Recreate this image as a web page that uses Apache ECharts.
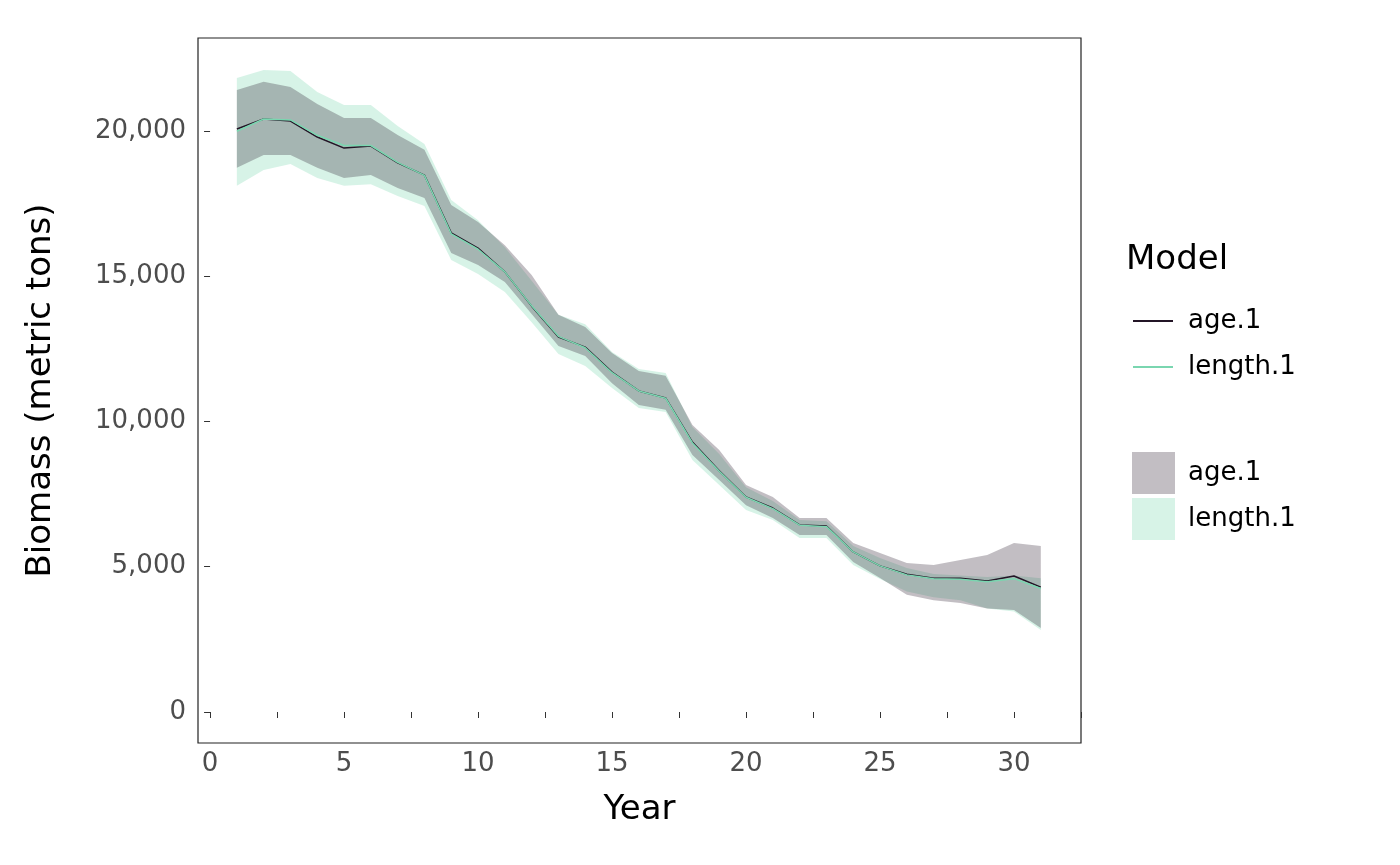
<!DOCTYPE html>
<html>
<head>
<meta charset="utf-8">
<script src="https://cdn.jsdelivr.net/npm/echarts@6/dist/echarts.min.js"></script>
<style>html,body{margin:0;padding:0;background:#fff}#main{width:1400px;height:865px}</style>
</head>
<body>
<div id="main"></div>
<script>
// 年份
var years = [1,2,3,4,5,6,7,8,9,10,11,12,13,14,15,16,17,18,19,20,21,22,23,24,25,26,27,28,29,30,31];
// age.1 模型
var ageEst = [20070,20410,20340,19790,19410,19480,18900,18480,16490,15970,15150,13970,12910,12560,11700,11050,10810,9290,8300,7400,7020,6440,6400,5510,5030,4740,4600,4600,4510,4680,4300];
var ageHi  = [21410,21690,21510,20930,20450,20450,19860,19350,17450,16870,16070,15040,13670,13250,12360,11740,11570,9880,9020,7810,7400,6680,6680,5820,5470,5130,5060,5230,5400,5820,5710];
var ageLo  = [18730,19170,19170,18730,18380,18480,18040,17690,15800,15390,14800,13700,12600,12250,11320,10570,10400,8850,7990,7120,6680,6090,6090,5160,4610,4040,3850,3750,3560,3510,2890];
// length.1 模型
var lenEst = [19990,20410,20380,19850,19500,19500,18920,18470,16460,15930,15150,13980,12930,12540,11680,11050,10800,9260,8290,7390,7000,6430,6380,5510,5030,4720,4590,4570,4480,4590,4250];
var lenHi  = [21820,22100,22060,21340,20890,20890,20170,19550,17620,16930,16000,14840,13670,13350,12390,11810,11670,9810,8880,7740,7260,6610,6570,5710,5300,4960,4750,4700,4650,4700,4600];
var lenLo  = [18110,18660,18860,18380,18110,18170,17760,17420,15560,15080,14460,13420,12320,11910,11150,10460,10330,8670,7810,6950,6610,5990,5990,5060,4580,4150,3950,3850,3560,3460,2820];

var ageColor = '#231526', lenColor = '#7ad6b0';

function pairs(arr){ return years.map(function(y, i){ return [y, arr[i]]; }); }

// 置信带: 用custom系列画多边形, 坐标由坐标轴换算
function band(name, lo, hi, color, op){
    return {
        name: name, type: 'custom', silent: true, z: 1,
        itemStyle: {color: color, opacity: op},
        data: years.map(function(y, i){ return [y, lo[i], hi[i]]; }),
        renderItem: function(params, api){
            if (params.dataIndex !== 0) return null;
            var pts = [];
            years.forEach(function(y, i){ pts.push(api.coord([y, hi[i]])); });
            for (var i = years.length - 1; i >= 0; i--) pts.push(api.coord([years[i], lo[i]]));
            return {type: 'polygon', shape: {points: pts}, style: {fill: color, opacity: op}};
        },
        encode: {x: 0, y: [1, 2]}
    };
}

var series = [
    band('length.1 ', lenLo, lenHi, lenColor, 0.3),
    band('age.1 ', ageLo, ageHi, ageColor, 0.28),
    {name: 'age.1', type: 'line', data: pairs(ageEst), symbol: 'none', showSymbol: false,
     lineStyle: {color: ageColor, width: 1.5}, itemStyle: {color: ageColor}, z: 3},
    {name: 'length.1', type: 'line', data: pairs(lenEst), symbol: 'none', showSymbol: false,
     lineStyle: {color: lenColor, width: 1.5}, itemStyle: {color: lenColor}, z: 4}
];

var xTicks = [], xLabels = [0,5,10,15,20,25,30];
for (var t = 0; t <= 32.5; t += 2.5) xTicks.push(t);
var yTicks = [0,5000,10000,15000,20000];

var chart = echarts.init(document.getElementById('main'));
chart.setOption({
    animation: false,
    textStyle: {fontFamily: 'DejaVu Sans'},
    grid: {left: 198, right: 319, top: 38, bottom: 122, show: true, borderColor: '#222', borderWidth: 1.2},
    xAxis: {
        type: 'value', min: -0.45, max: 32.5,
        name: 'Year', nameLocation: 'middle', nameGap: 50,
        nameTextStyle: {fontSize: 34, color: '#000'},
        axisLine: {show: false},
        splitLine: {show: false},
        axisTick: {show: true, length: 6, lineStyle: {color: '#333'}, customValues: xTicks},
        axisLabel: {fontSize: 26, color: '#4d4d4d', margin: 8, customValues: xLabels}
    },
    yAxis: {
        type: 'value', min: -1067, max: 23200,
        name: 'Biomass (metric tons)', nameLocation: 'middle', nameGap: 140,
        nameTextStyle: {fontSize: 34, color: '#000'},
        axisLine: {show: false},
        splitLine: {show: false},
        axisTick: {show: true, length: 6, lineStyle: {color: '#333'}, customValues: yTicks},
        axisLabel: {fontSize: 26, color: '#4d4d4d', margin: 12, customValues: yTicks,
            formatter: function(v){ return v.toLocaleString('en-US'); }}
    },
    legend: [
        {data: ['age.1', 'length.1'], orient: 'vertical', left: 1128, top: 303,
         itemWidth: 40, itemHeight: 26, itemGap: 20, icon: 'path://M0,12 L40,12 L40,14 L0,14 Z',
         textStyle: {fontSize: 26, color: '#000', padding: [0,0,0,10]}, selectedMode: false},
        {data: ['age.1 ', 'length.1 '], orient: 'vertical', left: 1127, top: 447,
         itemWidth: 43, itemHeight: 42, itemGap: 4, icon: 'rect',
         textStyle: {fontSize: 26, color: '#000', padding: [0,0,0,8]}, selectedMode: false}
    ],
    graphic: [
        {type: 'text', left: 1126, top: 243, style: {text: 'Model', fontSize: 34, fill: '#000', fontFamily: 'DejaVu Sans'}}
    ],
    series: series
});
</script>
</body>
</html>
